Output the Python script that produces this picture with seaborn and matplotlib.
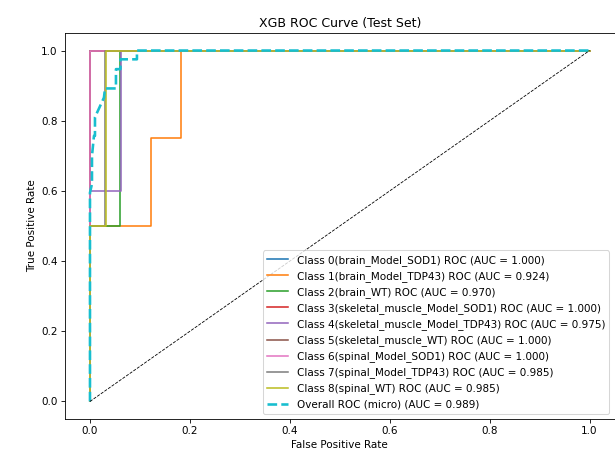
import matplotlib
matplotlib.use("Agg")
import matplotlib.pyplot as plt
import seaborn as sns
import numpy as np

class_names = ["brain_Model_SOD1", "brain_Model_TDP43", "brain_WT",
               "skeletal_muscle_Model_SOD1", "skeletal_muscle_Model_TDP43",
               "skeletal_muscle_WT", "spinal_Model_SOD1", "spinal_Model_TDP43",
               "spinal_WT"]
aucs = [1.000, 0.924, 0.970, 1.000, 0.975, 1.000, 1.000, 0.985, 0.985]

fpr_0 = [0.0, 0.0, 1.0]
tpr_0 = [0.0, 1.0, 1.0]
fpr_1 = [0.0, 0.0, 0.1212, 0.1212, 0.1818, 0.1818, 1.0]
tpr_1 = [0.0, 0.5, 0.5, 0.75, 0.75, 1.0, 1.0]
fpr_2 = [0.0, 0.0, 0.0606, 0.0606, 1.0]
tpr_2 = [0.0, 0.5, 0.5, 1.0, 1.0]
fpr_3 = [0.0, 0.0, 1.0]
tpr_3 = [0.0, 1.0, 1.0]
fpr_4 = [0.0, 0.0, 0.0625, 0.0625, 1.0]
tpr_4 = [0.0, 0.6, 0.6, 1.0, 1.0]
fpr_5 = [0.0, 0.0, 1.0]
tpr_5 = [0.0, 1.0, 1.0]
fpr_6 = [0.0, 0.0, 1.0]
tpr_6 = [0.0, 1.0, 1.0]
fpr_7 = [0.0, 0.0, 0.0303, 0.0303, 1.0]
tpr_7 = [0.0, 0.5, 0.5, 1.0, 1.0]
fpr_8 = [0.0, 0.0, 0.0313, 0.0313, 1.0]
tpr_8 = [0.0, 0.5, 0.5, 1.0, 1.0]

fpr_micro = [0.0, 0.0, 0.004, 0.004, 0.008, 0.010, 0.010, 0.028, 0.030, 0.052,
             0.052, 0.061, 0.061, 0.094, 0.094, 1.0]
tpr_micro = [0.0, 0.595, 0.62, 0.70, 0.757, 0.757, 0.81, 0.866, 0.892, 0.892,
             0.947, 0.947, 0.975, 0.975, 1.0, 1.0]
auc_micro = 0.989

fprs = [fpr_0, fpr_1, fpr_2, fpr_3, fpr_4, fpr_5, fpr_6, fpr_7, fpr_8]
tprs = [tpr_0, tpr_1, tpr_2, tpr_3, tpr_4, tpr_5, tpr_6, tpr_7, tpr_8]

colors = plt.rcParams['axes.prop_cycle'].by_key()['color']

fig = plt.figure(figsize=(615 / 75, 451 / 75), dpi=75)
ax = fig.add_axes([65 / 615, 1 - 419 / 451, 549.5 / 615, (419 - 33) / 451])

for i in range(9):
    sns.lineplot(x=fprs[i], y=tprs[i], ax=ax, color=colors[i], lw=1.5,
                 estimator=None, sort=False,
                 label=f"Class {i}({class_names[i]}) ROC (AUC = {aucs[i]:.3f})")

sns.lineplot(x=fpr_micro, y=tpr_micro, ax=ax, color="#17becf", lw=2.5,
             linestyle="--", estimator=None, sort=False,
             label=f"Overall ROC (micro) (AUC = {auc_micro:.3f})")

ax.plot([0, 1], [0, 1], "k--", lw=0.8)
ax.set_xlim(-0.05, 1.05)
ax.set_ylim(-0.05, 1.05)
ax.set_xlabel("False Positive Rate")
ax.set_ylabel("True Positive Rate")
ax.set_title("XGB ROC Curve (Test Set)")
ax.legend(loc="lower right")

fig.savefig("out.png", dpi=75)
